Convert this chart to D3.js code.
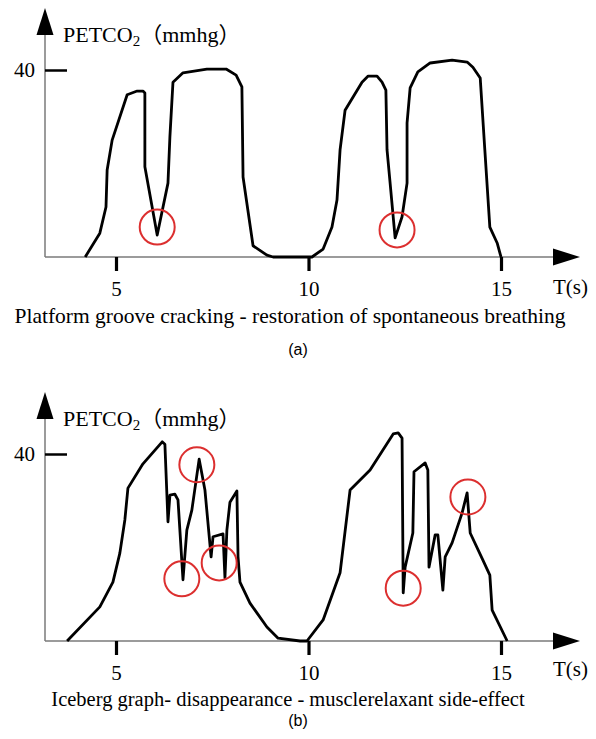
<!DOCTYPE html>
<html>
<head>
<meta charset="utf-8">
<script src="https://cdn.jsdelivr.net/npm/d3@7"></script>
<style>
body { margin:0; background:#fff; }
svg { display:block; }
</style>
</head>
<body>
<svg id="chart" width="596" height="739"></svg>
<script>
/** datos **/
// panel (a): tiempo (s) y PETCO2 (mmhg)
var tA = [4.20,4.58,4.74,4.77,4.90,5.29,5.55,5.70,5.75,5.75,6.07,6.35,6.40,6.48,6.74,7.36,7.86,8.12,8.27,8.30,8.56,8.92,9.08,
          10.09,10.38,10.61,10.74,10.82,10.95,11.39,11.55,11.78,11.91,12.01,12.04,12.12,12.25,12.43,12.56,12.56,12.64,12.84,
          13.16,13.73,14.12,14.27,14.46,14.58,14.71,14.90,15.00];
var vA = [0,5.1,10.7,18.6,25.0,34.7,35.5,35.5,35.1,19.3,4.7,15.8,25.7,37.4,39.4,40.2,40.2,38.9,36.4,17.1,2.4,0.4,0,
          0,1.7,6.4,12.2,22.9,31.4,37.4,38.7,38.7,37.4,35.7,22.9,15.8,4.1,8.6,15.8,28.7,36.2,39.6,
          41.5,42.1,41.7,40.6,38.3,22.9,6.4,3.0,0];
// circulos rojos del panel (a)
var circA_t = [6.07, 12.30];
var circA_v = [6.4, 5.8];

// panel (b)
var tB = [3.73,4.58,4.92,5.10,5.23,5.31,5.70,6.20,6.27,6.35,6.40,6.53,6.61,6.74,6.84,6.97,7.16,7.31,7.47,7.52,7.78,7.83,7.88,
          7.96,8.14,8.17,8.22,8.48,8.92,9.21,9.78,9.96,10.38,10.82,11.08,11.60,12.20,12.33,12.43,12.46,12.51,12.71,12.74,
          13.03,13.10,13.13,13.29,13.36,13.49,13.55,13.73,13.99,14.12,14.20,14.53,14.71,14.77,15.16];
var vB = [0,7.3,12.6,18.8,25.9,32.7,37.9,42.6,42.1,25.5,31.2,31.4,30.2,13.1,23.7,28.0,38.9,32.3,18.0,22.3,22.9,13.5,23.7,
          29.7,32.1,18.0,12.6,8.1,3.0,0.6,0,0,4.5,14.6,32.3,36.6,44.3,44.5,43.4,10.3,15.8,23.1,36.2,
          38.1,36.6,15.8,22.7,22.7,10.9,18.0,21.0,27.4,31.7,23.1,17.3,14.1,6.6,0];
var circB_t = [7.10, 6.71, 7.68, 12.46, 14.14];
var circB_v = [37.7, 13.3, 16.7, 11.3, 30.8];

var xTicks = [5, 10, 15];
var yTicks = [40];
var captions = ["Platform groove cracking - restoration of spontaneous breathing",
                "Iceberg graph- disappearance - musclerelaxant side-effect"];
var letras = ["(a)", "(b)"];

/** escalas **/
var x = d3.scaleLinear().domain([5, 15]).range([116, 501]);
var y = d3.scaleLinear().domain([0, 40]).range([257, 70]);
var x0 = 45, xEnd = 580;

var svg = d3.select("#chart");
var serif = "'Liberation Serif','Times New Roman',serif";
var cjk = "'Noto Sans CJK SC'";

var zip = function(t, v) {
	var out = [];
	for (var i = 0; i < t.length; i++) out.push([t[i], v[i]]);
	return out;
}

var dibujaPanel = function(off, t, v, ct, cv, cap, capSize, capX, capY, letra, letraY, tsY)
{
	var g = svg.append("g").attr("transform", "translate(0," + off + ")");

	// ejes
	g.append("line").attr("x1", x0).attr("x2", x0).attr("y1", 30).attr("y2", y(0))
		.attr("stroke", "#7a7a7a").attr("stroke-width", 1.5);
	g.append("line").attr("x1", x0).attr("x2", xEnd - 20).attr("y1", y(0)).attr("y2", y(0))
		.attr("stroke", "#7a7a7a").attr("stroke-width", 1.5);
	// flechas
	g.append("path").attr("d", "M" + x0 + ",8 L" + (x0 - 8.5) + ",35 L" + (x0 + 8.5) + ",35 Z").attr("fill", "#000");
	g.append("path").attr("d", "M" + xEnd + "," + y(0) + " L553," + (y(0) - 8.5) + " L553," + (y(0) + 8.5) + " Z").attr("fill", "#000");

	// eje x con ticks
	var ax = g.append("g").attr("transform", "translate(0," + y(0) + ")")
		.call(d3.axisBottom(x).tickValues(xTicks).tickSizeInner(14).tickSizeOuter(0).tickPadding(10));
	ax.select(".domain").remove();
	ax.selectAll("line").attr("stroke", "#000").attr("stroke-width", 3.2);
	ax.selectAll("text").attr("font-family", serif).attr("font-size", 21).attr("fill", "#000");

	var ay = g.append("g").attr("transform", "translate(" + x0 + ",0)")
		.call(d3.axisLeft(y).tickValues(yTicks).tickSizeInner(-22).tickSizeOuter(0).tickPadding(10));
	ay.select(".domain").remove();
	ay.selectAll("line").attr("stroke", "#000").attr("stroke-width", 2.5);
	ay.selectAll("text").attr("font-family", serif).attr("font-size", 21).attr("fill", "#000");

	// titulos
	var lab = g.append("text").attr("x", 63).attr("y", 42).attr("font-family", serif).attr("font-size", 22);
	lab.append("tspan").text("PETCO");
	lab.append("tspan").attr("font-size", 15).attr("dy", 4).text("2");
	lab.append("tspan").attr("dy", -4).attr("font-family", cjk).text("（");
	lab.append("tspan").text("mmhg");
	lab.append("tspan").attr("font-family", cjk).text("）");

	g.append("text").attr("x", 553).attr("y", tsY).attr("font-family", serif).attr("font-size", 21).text("T(s)");

	// curva
	var linea = d3.line().x(function(d) { return x(d[0]); }).y(function(d) { return y(d[1]); });
	g.append("path").datum(zip(t, v)).attr("d", linea)
		.attr("fill", "none").attr("stroke", "#000").attr("stroke-width", 2.8).attr("stroke-linejoin", "round");

	g.selectAll("circle").data(zip(ct, cv)).enter().append("circle")
		.attr("cx", function(d) { return x(d[0]); })
		.attr("cy", function(d) { return y(d[1]); })
		.attr("r", 17.5)
		.attr("fill", "none").attr("stroke", "#dc2f2f").attr("stroke-width", 2);

	g.append("text").attr("x", capX).attr("y", capY).attr("text-anchor", "middle")
		.attr("font-family", serif).attr("font-size", capSize).text(cap);
	g.append("text").attr("x", 298).attr("y", letraY).attr("text-anchor", "middle")
		.attr("font-family", "'Liberation Sans',Arial,sans-serif").attr("font-size", 16).text(letra);
}

/** MAIN **/
dibujaPanel(0, tA, vA, circA_t, circA_v, captions[0], 21.5, 290, 323, letras[0], 355, 294);
dibujaPanel(384, tB, vB, circB_t, circB_v, captions[1], 20.5, 288, 322, letras[1], 342, 292);
</script>
</body>
</html>
